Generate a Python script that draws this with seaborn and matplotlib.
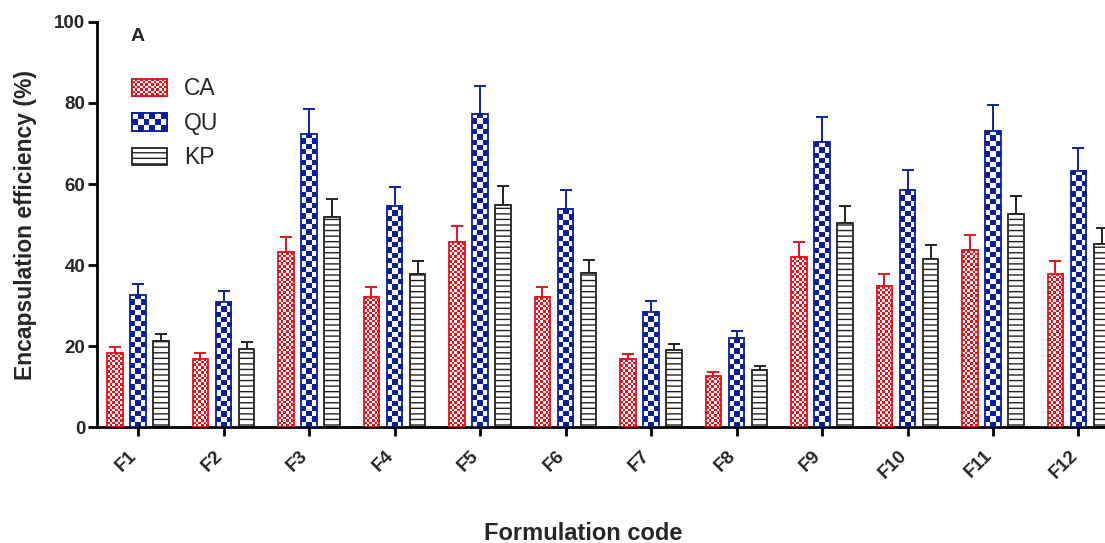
import numpy as np
import pandas as pd
import matplotlib
matplotlib.use("Agg")
import matplotlib.pyplot as plt
import seaborn as sns
from matplotlib.colors import ListedColormap
from matplotlib.patches import Patch, Rectangle
from matplotlib.transforms import ScaledTranslation

# ---------------- data ----------------
formulations = ["F1", "F2", "F3", "F4", "F5", "F6", "F7", "F8", "F9", "F10", "F11", "F12"]
series_names = ["CA", "QU", "KP"]
ca_mean = [18.3, 16.9, 43.1, 32.1, 45.6, 32.0, 16.7, 12.6, 41.9, 34.7, 43.7, 37.8]
ca_err = [1.5, 1.4, 3.8, 2.5, 4.0, 2.6, 1.3, 1.0, 3.7, 3.1, 3.8, 3.1]
qu_mean = [32.6, 30.9, 72.4, 54.6, 77.4, 53.8, 28.5, 21.9, 70.3, 58.4, 73.2, 63.3]
qu_err = [2.7, 2.7, 6.1, 4.7, 6.8, 4.7, 2.5, 1.8, 6.2, 5.1, 6.4, 5.5]
kp_mean = [21.2, 19.3, 51.9, 37.8, 54.9, 38.1, 19.0, 14.0, 50.4, 41.4, 52.6, 45.1]
kp_err = [1.8, 1.6, 4.4, 3.1, 4.7, 3.1, 1.5, 1.1, 4.2, 3.5, 4.4, 4.0]
y_ticks = [0, 20, 40, 60, 80, 100]

means = {"CA": ca_mean, "QU": qu_mean, "KP": kp_mean}
errs = {"CA": ca_err, "QU": qu_err, "KP": kp_err}

df = pd.DataFrame(
    [(f, s, means[s][i]) for s in series_names for i, f in enumerate(formulations)],
    columns=["Formulation", "Series", "Value"],
)

# ---------------- style ----------------
colors = {"CA": "#e8101a", "QU": "#0a1f9c", "KP": "#222222"}
cell_px = {"CA": 2.6, "QU": 5.3}  # checker cell size in pixels

sns.set_style("white")
plt.rcParams["font.family"] = ["Liberation Sans", "DejaVu Sans"]
plt.rcParams["hatch.linewidth"] = 1.0

fig = plt.figure(figsize=(11.05, 5.43), dpi=100)
ax = fig.add_axes([0.0878, 0.2136, 0.9122, 0.7459])

sns.barplot(
    data=df, x="Formulation", y="Value", hue="Series",
    order=formulations, hue_order=series_names,
    width=0.81, gap=0.33, errorbar=None, ax=ax, legend=False,
    palette=["white"] * 3,
)

ax.set_xlim(-0.48, 11.31)
ax.set_ylim(0, 100)

fig.canvas.draw()
px_per_x = ax.transData.transform((1, 0))[0] - ax.transData.transform((0, 0))[0]
px_per_y = ax.transData.transform((0, 1))[1] - ax.transData.transform((0, 0))[1]


def checker(nx, ny):
    i, j = np.meshgrid(np.arange(nx), np.arange(ny))
    return ((i + j) % 2).astype(float)


for container, name in zip(ax.containers, series_names):
    col = colors[name]
    centers, tops = [], []
    for bar in container:
        x0, y0 = bar.get_x(), bar.get_y()
        w, h = bar.get_width(), bar.get_height()
        centers.append(x0 + w / 2)
        tops.append(y0 + h)
        bar.set_facecolor("none")
        bar.set_edgecolor(col)
        bar.set_linewidth(1.3)
        bar.set_zorder(3)
        if name in cell_px:
            c = cell_px[name]
            nx = max(1, int(round(w * px_per_x / c)))
            ny = max(1, int(round(h * px_per_y / c)))
            ax.imshow(checker(nx, ny), cmap=ListedColormap(["white", col]),
                      extent=(x0, x0 + w, y0, y0 + h), origin="lower",
                      aspect="auto", interpolation="nearest", zorder=2,
                      vmin=0, vmax=1)
        else:
            bar.set_facecolor("white")
            bar.set_hatch("---")
            bar.set_zorder(2)
    e = np.array(errs[name])
    ax.errorbar(centers, tops, yerr=[np.zeros_like(e), e], fmt="none",
                ecolor=col, elinewidth=1.4, capsize=4, capthick=1.4, zorder=1)

ax.set_xlim(-0.48, 11.31)
ax.set_ylim(0, 100)
ax.set_yticks(y_ticks)
ax.set_autoscale_on(False)

# spines / ticks
for s in ["top", "right"]:
    ax.spines[s].set_visible(False)
for s in ["left", "bottom"]:
    ax.spines[s].set_linewidth(2.0)
    ax.spines[s].set_color("black")
ax.tick_params(axis="both", direction="out", length=6.5, width=2, color="black",
               left=True, bottom=True)
ax.tick_params(axis="y", labelsize=13.5, pad=2)
ax.tick_params(axis="x", labelsize=13.5, pad=8)
for lab in ax.get_yticklabels():
    lab.set_fontweight("bold")
ax.set_xticks(range(len(formulations)))
ax.set_xticklabels(formulations, rotation=45, ha="right", rotation_mode="anchor",
                   fontweight="bold")
shift = ScaledTranslation(-7 / 72, 0, fig.dpi_scale_trans)
for lab in ax.get_xticklabels():
    lab.set_transform(lab.get_transform() + shift)

ax.set_ylabel("Encapsulation efficiency (%)", fontsize=16.5, fontweight="bold")
ax.yaxis.set_label_coords(-0.06, 0.5)
ax.set_xlabel("Formulation code", fontsize=17, fontweight="bold", va="baseline")
ax.xaxis.set_label_coords(0.482, -0.278)

ax.text(0.033, 0.985, "A", transform=ax.transAxes, fontsize=14, fontweight="bold",
        va="top", ha="left")

# legend
handles = [Patch(facecolor="white", edgecolor=colors[n], linewidth=1.3,
                 hatch=("---" if n == "KP" else None), label=n) for n in series_names]
leg = ax.legend(handles=handles, loc="upper left", bbox_to_anchor=(0.035, 0.863),
                frameon=False, fontsize=16.5, handlelength=1.5, handleheight=0.78,
                labelspacing=0.5, handletextpad=0.75, borderaxespad=0, borderpad=0)

fig.canvas.draw()
renderer = fig.canvas.get_renderer()
inv = ax.transData.inverted()
for h, n in zip(leg.legend_handles, series_names):
    if n in cell_px:
        bb = h.get_window_extent(renderer)
        (dx0, dy0) = inv.transform((bb.x0, bb.y0))
        (dx1, dy1) = inv.transform((bb.x1, bb.y1))
        c = cell_px[n]
        nx = max(1, int(round(bb.width / c)))
        ny = max(1, int(round(bb.height / c)))
        ax.imshow(checker(nx, ny), cmap=ListedColormap(["white", colors[n]]),
                  extent=(dx0, dx1, dy0, dy1), origin="lower", aspect="auto",
                  interpolation="nearest", zorder=6, vmin=0, vmax=1, clip_on=False)
        ax.add_patch(Rectangle((dx0, dy0), dx1 - dx0, dy1 - dy0,
                     facecolor="none", edgecolor=colors[n], linewidth=1.3,
                     zorder=7, clip_on=False))

ax.set_xlim(-0.48, 11.31)
ax.set_ylim(0, 100)

fig.savefig("out.png", dpi=100)
